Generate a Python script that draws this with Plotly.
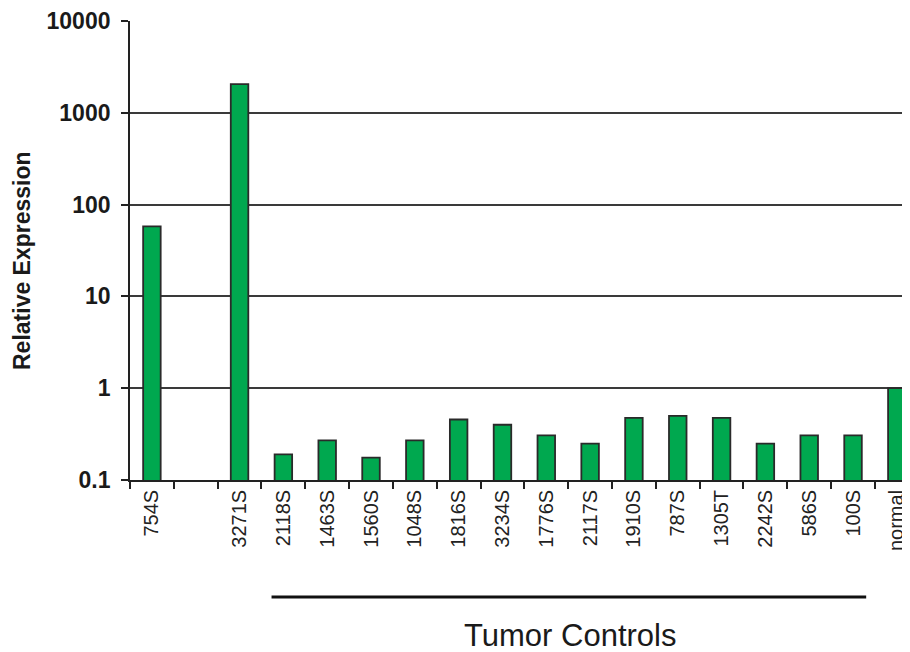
import plotly.graph_objects as go

categories = ["754S", " ", "3271S", "2118S", "1463S", "1560S", "1048S", "1816S", "3234S",
              "1776S", "2117S", "1910S", "787S", "1305T", "2242S", "586S", "100S", "normal"]
values = [58, None, 2050, 0.19, 0.27, 0.175, 0.27, 0.456, 0.40,
          0.307, 0.249, 0.475, 0.50, 0.475, 0.249, 0.307, 0.307, 1.0]
ytick_vals = [0.1, 1, 10, 100, 1000, 10000]
ytick_text = ["0.1", "1", "10", "100", "1000", "10000"]

FONT = "Arial, Liberation Sans, sans-serif"

fig = go.Figure(go.Bar(
    x=categories, y=values, width=0.4,
    marker=dict(color="#00A84F", line=dict(color="#2a2a2a", width=1.8)),
))

# page body has an 8px margin, so the figure is 8px smaller than the window
fig.update_layout(
    width=902, height=644,
    margin=dict(l=122, r=0, t=13, b=172),
    paper_bgcolor="white", plot_bgcolor="white",
    showlegend=False,
)
fig.update_yaxes(
    type="log", range=[-1, 4],
    tickvals=ytick_vals, ticktext=ytick_text,
    tickfont=dict(family=FONT, size=23, color="#1a1a1a", weight="bold"),
    showgrid=True, gridcolor="#3a3a3a", gridwidth=1.6,
    showline=True, linecolor="#222222", linewidth=1.8,
    ticks="outside", ticklen=7, tickcolor="#222222", tickwidth=1.6,
    ticklabelstandoff=6,
    automargin=False,
    zeroline=False,
)
fig.update_xaxes(
    type="category", range=[-0.5, 17.3],
    tickangle=-90, tickfont=dict(family=FONT, size=20, color="#222222"),
    ticks="outside", ticklen=7, tickcolor="#222222", tickwidth=1.6,
    tickson="boundaries", ticklabeloverflow="allow",
    showline=True, linecolor="#222222", linewidth=1.8,
    showgrid=False, automargin=False,
)

fig.add_annotation(text="<b>Relative Expression</b>", xref="paper", yref="paper",
                   x=(22 - 130) / 780, y=(480 - 261) / 459, textangle=-90,
                   showarrow=False, xanchor="center", yanchor="middle",
                   font=dict(family=FONT, size=23, color="#1a1a1a"))
fig.add_shape(type="line", xref="x", yref="paper",
              x0=2.73, x1=16.3, y0=-0.255, y1=-0.255,
              line=dict(color="#111111", width=3))
fig.add_annotation(text="Tumor Controls", xref="paper", yref="paper",
                   x=(570 - 130) / 780, y=(480 - 635) / 459, showarrow=False,
                   font=dict(family=FONT, size=31, color="#1a1a1a"),
                   xanchor="center", yanchor="middle")

fig.write_html("out.html")
